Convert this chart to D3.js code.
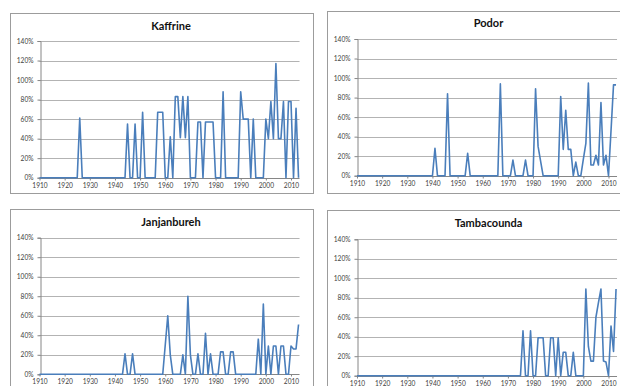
<!DOCTYPE html>
<html>
<head>
<meta charset="utf-8">
<script src="https://cdn.jsdelivr.net/npm/d3@7"></script>
<style>
  body { margin: 0; background: #fff; }
  svg { display: block; }
  .tick text { font-family: Lato, "Liberation Sans", sans-serif; font-size: 6.6px; fill: #404040; }
  .title { font-family: Lato, "Liberation Sans", sans-serif; font-weight: bold; font-size: 11px; fill: #111; }
</style>
</head>
<body>
<svg id="chart" width="620" height="386"></svg>
<script>
// years 1910 .. 2013, one value per year (percent)
const firstYear = 1910;
const lastYear = 2013;
const yearTicks = [1910, 1920, 1930, 1940, 1950, 1960, 1970, 1980, 1990, 2000, 2010];
const pctTicks = [0, 20, 40, 60, 80, 100, 120, 140];

const kaffrine = [
  0, 0, 0, 0, 0, 0, 0, 0, 0, 0,       // 1910
  0, 0, 0, 0, 0, 0, 61, 0, 0, 0,      // 1920
  0, 0, 0, 0, 0, 0, 0, 0, 0, 0,       // 1930
  0, 0, 0, 0, 0, 55, 0, 0, 55, 0,     // 1940
  0, 67, 0, 0, 0, 0, 0, 67, 67, 67,   // 1950
  0, 0, 42, 0, 83, 83, 41, 83, 41, 83, // 1960
  0, 0, 0, 57, 57, 0, 57, 57, 57, 57, // 1970
  0, 0, 0, 88, 0, 0, 0, 0, 0, 0,      // 1980
  88, 60, 60, 60, 0, 60, 0, 0, 0, 0,  // 1990
  60, 40, 78, 40, 117, 40, 40, 78, 0, 78, // 2000
  78, 0, 71, 0                        // 2010
];

const podor = [
  0, 0, 0, 0, 0, 0, 0, 0, 0, 0,
  0, 0, 0, 0, 0, 0, 0, 0, 0, 0,
  0, 0, 0, 0, 0, 0, 0, 0, 0, 0,
  0, 28, 0, 0, 0, 0, 84, 0, 0, 0,
  0, 0, 0, 0, 23, 0, 0, 0, 0, 0,
  0, 0, 0, 0, 0, 0, 0, 94, 0, 0,
  0, 0, 16, 0, 0, 0, 0, 16, 0, 0,
  0, 89, 30, 15, 0, 0, 0, 0, 0, 0,
  0, 81, 27, 67, 27, 27, 0, 14, 0, 0,
  17, 33, 95, 11, 11, 21, 11, 75, 11, 21,
  0, 46, 93, 93
];

const janjanbureh = [
  0, 0, 0, 0, 0, 0, 0, 0, 0, 0,
  0, 0, 0, 0, 0, 0, 0, 0, 0, 0,
  0, 0, 0, 0, 0, 0, 0, 0, 0, 0,
  0, 0, 0, 0, 21, 0, 0, 21, 0, 0,
  0, 0, 0, 0, 0, 0, 0, 0, 0, 0,
  30, 60, 20, 0, 0, 0, 0, 20, 0, 80,
  20, 0, 0, 21, 0, 0, 42, 0, 21, 0,
  0, 0, 23, 23, 0, 0, 23, 23, 0, 0,
  0, 0, 0, 0, 0, 0, 0, 36, 0, 72,
  0, 29, 0, 29, 29, 0, 29, 29, 0, 0,
  29, 26, 26, 51
];

const tambacounda = [
  0, 0, 0, 0, 0, 0, 0, 0, 0, 0,
  0, 0, 0, 0, 0, 0, 0, 0, 0, 0,
  0, 0, 0, 0, 0, 0, 0, 0, 0, 0,
  0, 0, 0, 0, 0, 0, 0, 0, 0, 0,
  0, 0, 0, 0, 0, 0, 0, 0, 0, 0,
  0, 0, 0, 0, 0, 0, 0, 0, 0, 0,
  0, 0, 0, 0, 0, 0, 46, 0, 0, 46,
  0, 0, 39, 39, 39, 0, 0, 39, 39, 0,
  39, 0, 24, 24, 0, 0, 24, 0, 0, 0,
  0, 89, 30, 15, 15, 60, 75, 89, 15, 14,
  0, 51, 25, 89
];

const titles = ["Kaffrine", "Podor", "Janjanbureh", "Tambacounda"];
const series = [kaffrine, podor, janjanbureh, tambacounda];

// panel frames and plot areas, in page pixels
const panels = [
  { bx: 10,  by: 13,  bw: 303, bh: 180, left: 39.5,  top: 41,    bottom: 177.7, titleY: 29.5 },
  { bx: 327, by: 11,  bw: 300, bh: 182, left: 357,   top: 39,    bottom: 175.7, titleY: 27 },
  { bx: 10,  by: 209, bw: 303, bh: 190, left: 39.5,  top: 237.7, bottom: 374.3, titleY: 225.5 },
  { bx: 327, by: 210, bw: 300, bh: 190, left: 357,   top: 239.3, bottom: 375.7, titleY: 227 }
];
const yearStep = 2.515;

const svg = d3.select("#chart");
const years = d3.range(firstYear, lastYear + 1);

panels.forEach(function (p, i) {
  const g = svg.append("g");
  const right = p.left + (lastYear - firstYear) * yearStep;

  g.append("rect")
    .attr("x", p.bx + 0.5).attr("y", p.by + 0.5)
    .attr("width", p.bw).attr("height", p.bh)
    .attr("fill", "#fff")
    .attr("stroke", "#9c9c9c");

  const x = d3.scaleLinear().domain([firstYear, lastYear]).range([p.left, right]);
  const y = d3.scaleLinear().domain([0, 140]).range([p.bottom, p.top]);

  // horizontal gridlines
  g.selectAll("line.grid")
    .data(pctTicks.slice(1))
    .enter()
    .append("line")
    .attr("class", "grid")
    .attr("x1", p.left).attr("x2", right + 1)
    .attr("y1", d => Math.round(y(d)) + 0.5)
    .attr("y2", d => Math.round(y(d)) + 0.5)
    .attr("stroke", "#b3b3b3")
    .attr("stroke-width", 1);

  const yAxis = g.append("g")
    .attr("transform", "translate(" + (Math.round(p.left) + 0.5) + ",0)")
    .call(d3.axisLeft(y).tickValues(pctTicks).tickFormat(d => d + "%").tickSize(3).tickPadding(4));

  const xAxis = g.append("g")
    .attr("transform", "translate(0," + (Math.round(p.bottom) + 0.5) + ")")
    .call(d3.axisBottom(x).tickValues(yearTicks).tickFormat(d3.format("d")).tickSize(2).tickPadding(3));

  [yAxis, xAxis].forEach(function (a) {
    a.select(".domain").attr("stroke", "#868686");
    a.selectAll(".tick line").attr("stroke", "#868686");
  });
  xAxis.select(".domain").attr("d", "M" + p.left + ",0H" + (right + 1));

  const line = d3.line()
    .x((d, j) => x(years[j]))
    .y(d => y(d));

  g.append("path")
    .datum(series[i])
    .attr("d", line)
    .attr("fill", "none")
    .attr("stroke", "#4a7ebb")
    .attr("stroke-width", 1.6)
    .attr("stroke-linejoin", "round");

  g.append("text")
    .attr("class", "title")
    .attr("x", (p.left + right) / 2 + 2)
    .attr("y", p.titleY)
    .attr("text-anchor", "middle")
    .text(titles[i]);
});
</script>
</body>
</html>
